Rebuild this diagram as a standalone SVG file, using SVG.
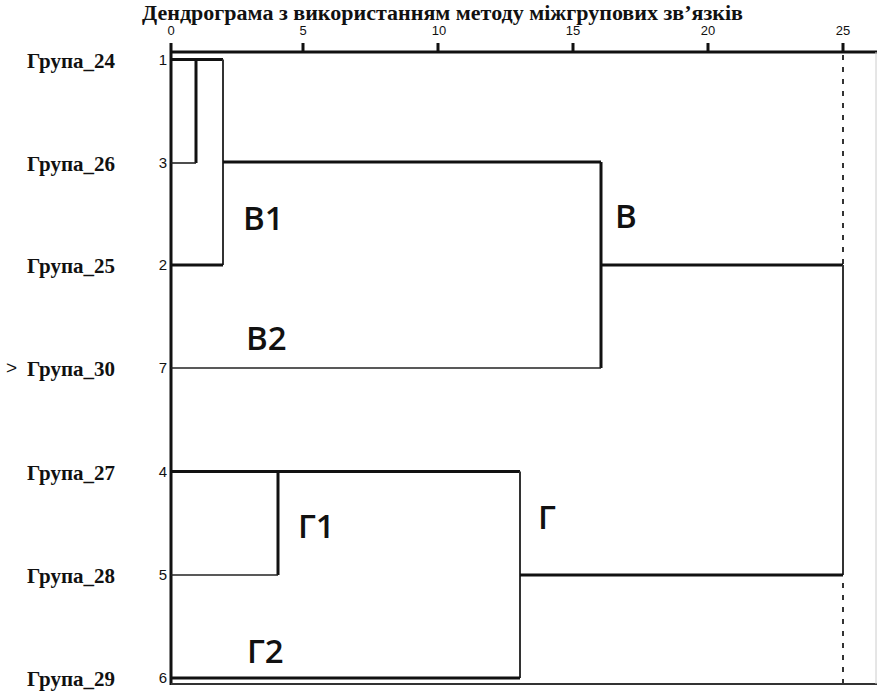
<svg xmlns="http://www.w3.org/2000/svg" width="877" height="693" viewBox="0 0 877 693">
<style>
.title{font-family:"Liberation Serif","Times New Roman",serif;font-weight:bold;font-size:20px;fill:#111}
.row{font-family:"Liberation Serif","Times New Roman",serif;font-weight:bold;font-size:21px;fill:#111}
.num{font-family:"Liberation Sans",Arial,sans-serif;font-size:15px;fill:#111}
.tick{font-family:"Liberation Sans",Arial,sans-serif;font-size:13px;fill:#111;text-anchor:middle}
.cl{font-family:"Open Sans","Liberation Sans",sans-serif;font-weight:600;font-size:33px;fill:#111}
.thick{stroke:#111;stroke-width:3;fill:none}
.thin{stroke:#222;stroke-width:1.6;fill:none}
.mid{stroke:#333;stroke-width:2;fill:none}
.dash{stroke:#333;stroke-width:2;stroke-dasharray:5 7;fill:none}
</style>
<rect width="877" height="693" fill="#fff"/>
<text class="title" x="142" y="20" textLength="601" lengthAdjust="spacingAndGlyphs">Дендрограма з використанням методу міжгрупових зв’язків</text>
<g id="axis">
<line class="thick" x1="171" y1="52" x2="877" y2="52"/>
<line class="thick" x1="171" y1="43" x2="171" y2="685"/>
<line class="mid" x1="171" y1="684" x2="877" y2="684"/>
<line stroke="#ccc" stroke-width="1" x1="876" y1="52" x2="876" y2="684"/>
<g class="thick">
<line x1="303" y1="43" x2="303" y2="52"/>
<line x1="438" y1="43" x2="438" y2="52"/>
<line x1="573" y1="43" x2="573" y2="52"/>
<line x1="708" y1="43" x2="708" y2="52"/>
<line x1="843" y1="43" x2="843" y2="52"/>
</g>
<text class="tick" x="171" y="35">0</text>
<text class="tick" x="303" y="35">5</text>
<text class="tick" x="439" y="35">10</text>
<text class="tick" x="573" y="35">15</text>
<text class="tick" x="708" y="35">20</text>
<text class="tick" x="843" y="35">25</text>
<line class="dash" x1="843" y1="55" x2="843" y2="265"/>
<line class="dash" x1="843" y1="583" x2="843" y2="684"/>
</g>
<g id="leaf-24"><text class="row" x="27" y="68">Група_24</text><text class="num" x="167" y="65" text-anchor="end">1</text></g>
<g id="leaf-26"><text class="row" x="27" y="171">Група_26</text><text class="num" x="167" y="168" text-anchor="end">3</text></g>
<g id="leaf-25"><text class="row" x="27" y="273">Група_25</text><text class="num" x="167" y="270" text-anchor="end">2</text></g>
<g id="leaf-30"><text class="num" x="6" y="374" style="font-size:19px">&gt;</text><text class="row" x="27" y="376">Група_30</text><text class="num" x="167" y="373" text-anchor="end">7</text></g>
<g id="leaf-27"><text class="row" x="27" y="480">Група_27</text><text class="num" x="167" y="477" text-anchor="end">4</text></g>
<g id="leaf-28"><text class="row" x="27" y="583">Група_28</text><text class="num" x="167" y="580" text-anchor="end">5</text></g>
<g id="leaf-29"><text class="row" x="27" y="686">Група_29</text><text class="num" x="167" y="683" text-anchor="end">6</text></g>
<g id="connectors">
<polyline class="thick" points="171,59.5 223,59.5"/>
<polyline class="thick" points="196,59.5 196,163"/>
<line class="thin" x1="171" y1="163" x2="196" y2="163"/>
<line class="mid" x1="223" y1="59.5" x2="223" y2="265"/>
<line class="thick" x1="171" y1="265" x2="223" y2="265"/>
<line class="thick" x1="223" y1="162" x2="601" y2="162"/>
<line class="thick" x1="601" y1="162" x2="601" y2="368"/>
<line class="thin" x1="171" y1="368" x2="601" y2="368"/>
<line class="thick" x1="601" y1="265" x2="843" y2="265"/>
<line class="mid" x1="843" y1="265" x2="843" y2="575"/>
<line class="thick" x1="171" y1="471.5" x2="520" y2="471.5"/>
<line class="thick" x1="278" y1="471.5" x2="278" y2="575"/>
<line class="thin" x1="171" y1="575" x2="278" y2="575"/>
<line class="mid" x1="520" y1="471.5" x2="520" y2="678"/>
<line class="thick" x1="171" y1="678" x2="520" y2="678"/>
<line class="thick" x1="520" y1="575" x2="843" y2="575"/>
</g>
<g id="cluster-labels">
<text class="cl" x="243" y="230">В1</text>
<text class="cl" x="615" y="228">В</text>
<text class="cl" x="246" y="350">В2</text>
<text class="cl" x="298" y="538">Г1</text>
<text class="cl" x="538" y="529">Г</text>
<text class="cl" x="247" y="663">Г2</text>
</g>
</svg>
